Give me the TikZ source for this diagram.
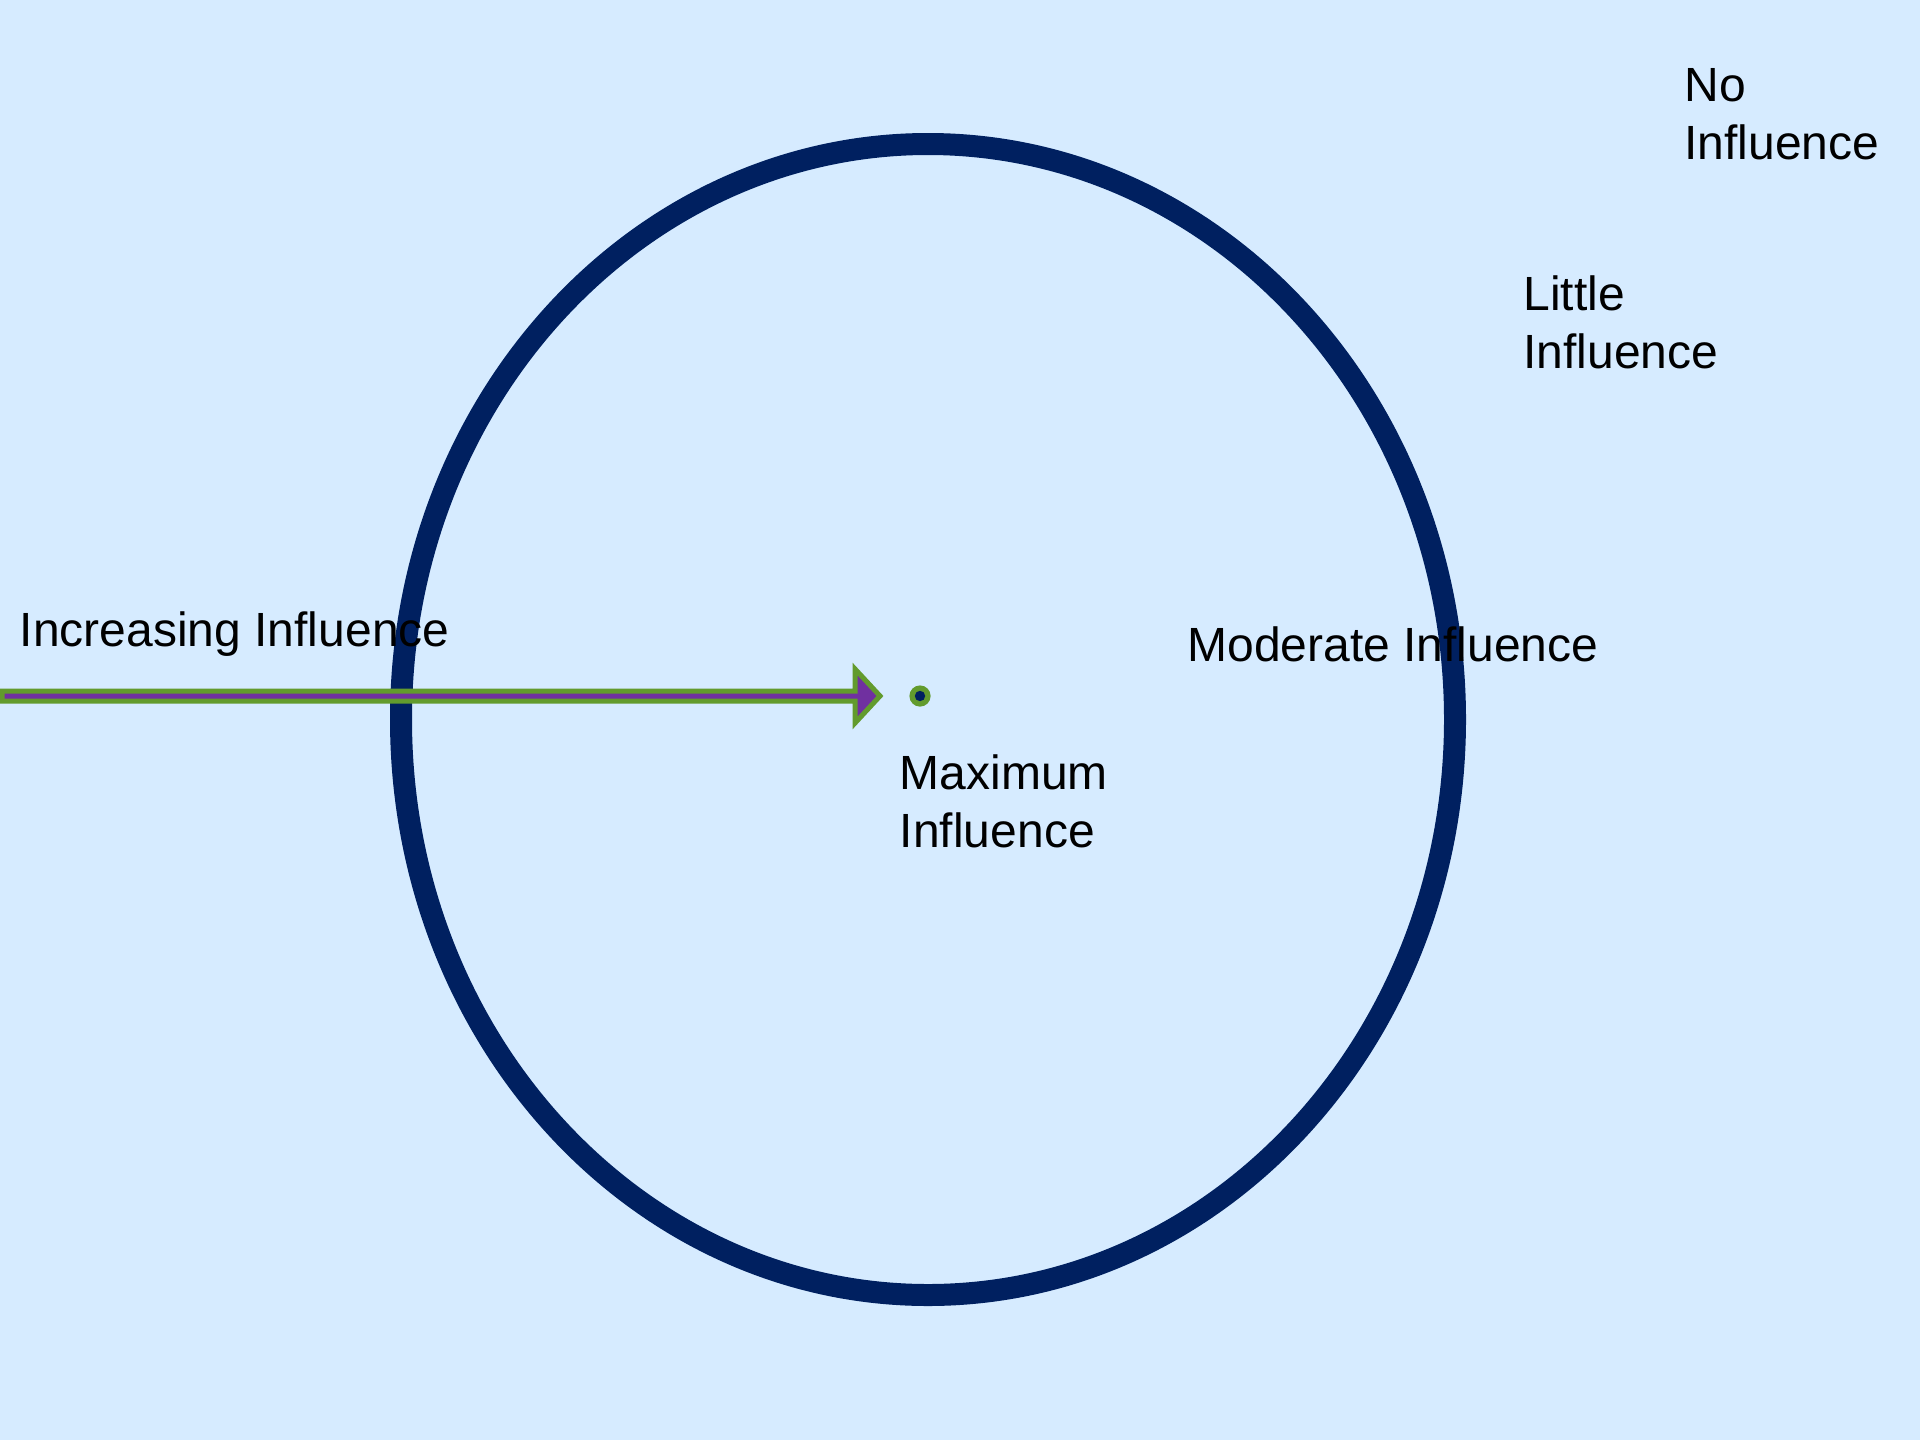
\documentclass[tikz,border=0pt]{standalone}
\usepackage{fontspec}
\setmainfont{Liberation Sans}
\definecolor{bg}{RGB}{214,235,255}
\definecolor{navy}{RGB}{0,32,96}
\definecolor{agreen}{RGB}{98,155,45}
\definecolor{apurple}{RGB}{112,48,160}
\newcommand{\lblfont}{\fontsize{24}{29}\selectfont}
\begin{document}
\begin{tikzpicture}[x=0.5pt,y=-0.5pt,
  lbl/.style={anchor=base west,inner sep=0pt,font=\lblfont,text=black},
  ring/.style={draw=navy,line width=11pt},
  arrowshape/.style={draw=agreen,fill=apurple,line width=2.5pt,line join=miter},
  dotouter/.style={circle,fill=agreen,inner sep=0pt,minimum size=10.6pt},
  dotinner/.style={circle,fill=navy,inner sep=0pt,minimum size=5.2pt}]
\fill[bg] (0,0) rectangle (1920,1440);
\useasboundingbox (0,0) rectangle (1920,1440);
% ring
\draw[ring] (928,719.5) ellipse [x radius=527, y radius=575.5];
% arrow
\coordinate (tail) at (2,696);
\coordinate (tip) at (880,696);
\draw[arrowshape] (2,691) -- (855,691) -- (855,669) -- (tip) -- (855,723) -- (855,701) -- (2,701) -- cycle;
% centre dot
\node[dotouter] (dot) at (920,696) {};
\node[dotinner] (dotc) at (dot.center) {};
% labels
\node[lbl] (noinf) at (1684,101.5) {\parbox[t]{200pt}{\lblfont No\\Influence}};
\node[lbl] (littleinf) at (1523,310) {\parbox[t]{200pt}{\lblfont Little\\Influence}};
\node[lbl] (modinf) at (1187,661.5) {Moderate Influence};
\node[lbl] (maxinf) at (899.5,789.5) {\parbox[t]{200pt}{\lblfont Maximum\\Influence}};
\node[lbl] (incinf) at (19.5,646.5) {Increasing Influence};
\end{tikzpicture}
\end{document}
